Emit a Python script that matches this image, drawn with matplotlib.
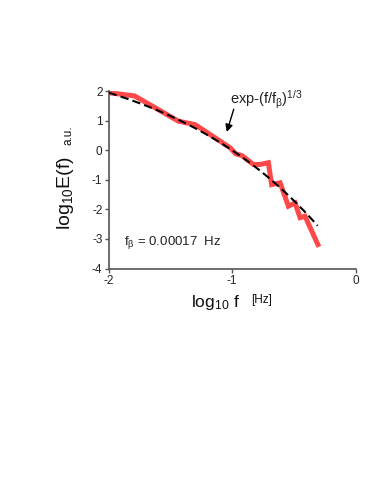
import numpy as np
import matplotlib
matplotlib.use("Agg")
import matplotlib.pyplot as plt

plt.rcParams['font.family'] = ['Liberation Sans', 'DejaVu Sans']
plt.rcParams['mathtext.fontset'] = 'custom'
plt.rcParams['mathtext.rm'] = 'Liberation Sans'
plt.rcParams['mathtext.it'] = 'Liberation Sans'
plt.rcParams['mathtext.bf'] = 'Liberation Sans:bold'

# measured spectrum (log10 f, log10 E)
log_f = [-2.0, -1.79, -1.435, -1.30, -1.016, -0.97, -0.92, -0.827, -0.773,
         -0.706, -0.68, -0.611, -0.544, -0.49, -0.449, -0.409, -0.305]
log_E = [1.95, 1.84, 0.985, 0.87, 0.085, -0.12, -0.18, -0.48, -0.48,
         -0.42, -1.16, -1.10, -1.89, -1.78, -2.28, -2.23, -3.19]

# stretched-exponential fit exp(-(f/f_beta)^(1/3))
f_beta = 0.00017
fit_offset = 3.64
fit_range = (-2.0, -0.307)

W, H = 374, 488
fig = plt.figure(figsize=(W / 100, H / 100), dpi=100)
x0, x1 = 108.7, 355.5
ytop, ybot = 91.2, 268.5
ax = fig.add_axes([x0 / W, 1 - ybot / H, (x1 - x0) / W, (ybot - ytop) / H])

ax.plot(log_f, log_E, color='#ff4848', lw=3.6, solid_joinstyle='miter', zorder=2)
xf = np.linspace(fit_range[0], fit_range[1], 200)
yf = fit_offset - (10 ** xf / f_beta) ** (1 / 3) * np.log10(np.e)
ax.plot(xf, yf, color='black', lw=1.5, dashes=(4, 2), zorder=3)

ax.set_xlim(-2, 0)
ax.set_ylim(-4, 2)
ax.set_xticks([-2, -1, 0])
ax.set_yticks([-4, -3, -2, -1, 0, 1, 2])
ax.set_xticklabels(['-2', '-1', '0'])
ax.set_yticklabels(['-4', '-3', '-2', '-1', '0', '1', '2'])
for s in ['top', 'right']:
    ax.spines[s].set_visible(False)
for s in ['left', 'bottom']:
    ax.spines[s].set_color('#555555')
    ax.spines[s].set_linewidth(1.2)
ax.tick_params(direction='out', length=3, width=1, colors='#555555',
               labelcolor='#222222', labelsize=8.5, pad=1.5)

ax.annotate('', xy=(-1.05, 0.53), xytext=(-0.98, 1.48),
            arrowprops=dict(arrowstyle='-|>', color='black', lw=1,
                            mutation_scale=11))
ax.text(-1.02, 1.72, r'exp-(f/f$_{\mathrm{β}}$)$^{1/3}$', fontsize=10.5,
        ha='left', va='center', color='#222222')
ax.text(-1.874, -3.13, r'f$_{\mathrm{β}}$ = 0.00017  Hz', fontsize=9.5,
        ha='left', va='center', color='#222222')

fig.text(65 / W, 1 - 193 / H, r'log$_{10}$E(f)', rotation=90, fontsize=14,
         ha='center', va='center', color='#111111')
fig.text(68 / W, 1 - 135.5 / H, 'a.u.', rotation=90, fontsize=8.5,
         ha='center', va='center', color='#111111')
fig.text(216 / W, 1 - 303 / H, r'log$_{10}$ f', fontsize=12.5,
         ha='center', va='center', color='#111111')
fig.text(262 / W, 1 - 300.5 / H, '[Hz]', fontsize=8.5,
         ha='center', va='center', color='#111111')

fig.savefig('out.png', dpi=100)
